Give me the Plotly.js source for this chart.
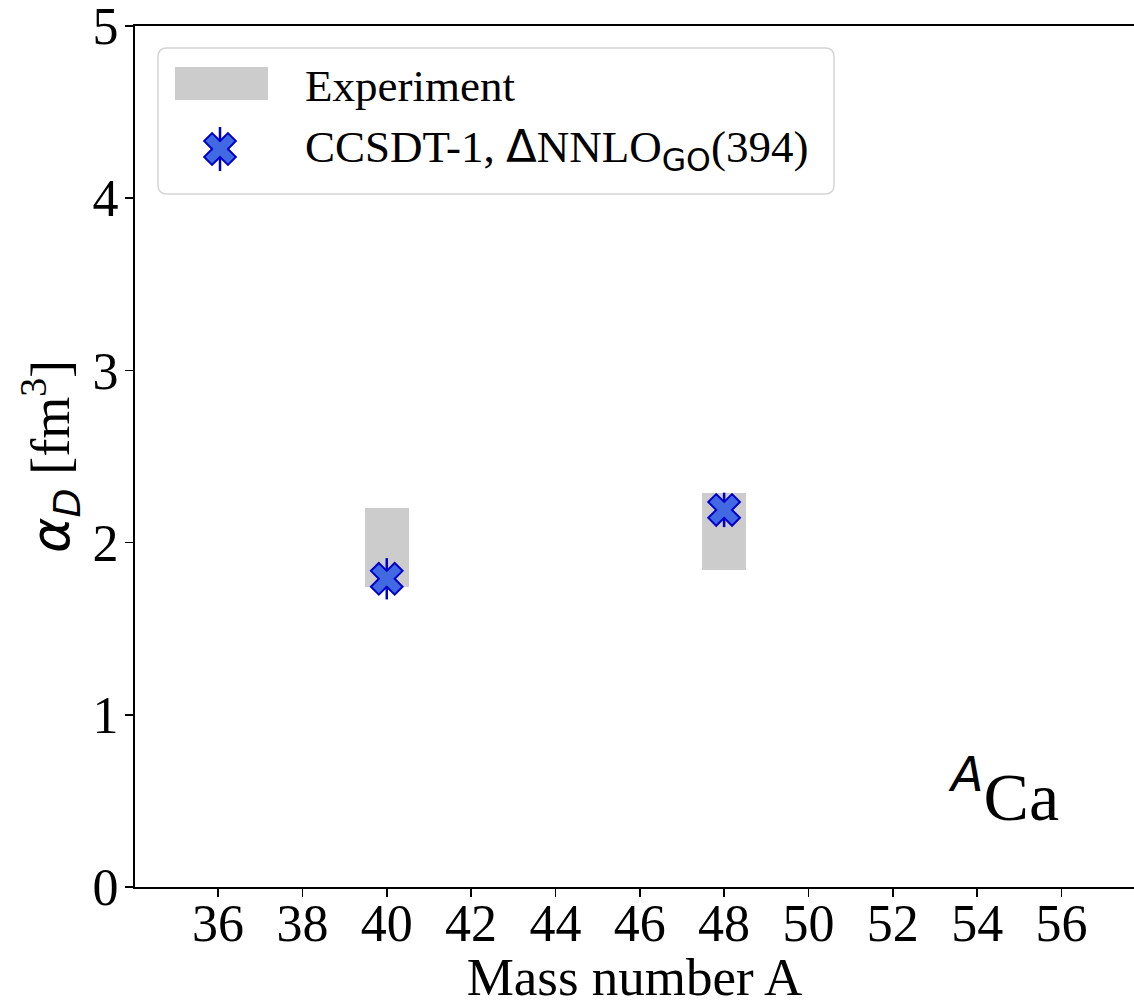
<!DOCTYPE html>
<html>
<head>
<meta charset="utf-8">
<script src="https://cdn.plot.ly/plotly-3.0.1.min.js"></script>
<style>html,body{margin:0;padding:0;background:#fff;}#chart{width:1134px;height:1006px;}</style>
</head>
<body>
<div id="chart"></div>
<script>
// ---- data ----
const massNumbers = [40, 48];
const expLow = [1.74, 1.84];
const expHigh = [2.20, 2.29];
const ccsdtValues = [1.79, 2.19];
const ccsdtErr = [0.12, 0.10];
const xTickVals = [36, 38, 40, 42, 44, 46, 48, 50, 52, 54, 56];
const yTickVals = [0, 1, 2, 3, 4, 5];
const legendLabels = ["Experiment", "CCSDT-1, <span style=\"font-family:DejaVu Sans\">Δ</span>NNLO<sub><span style=\"font-family:DejaVu Sans\">GO</span></sub>(394)"];

// ---- layout geometry (pixels) ----
const W = 1134, H = 1006;
const mL = 135, mR = 0, mT = 26, mB = 119;
const plotW = W - mL - mR, plotH = H - mT - mB;
const px = x => (x - mL) / plotW;
const py = y => (H - mB - y) / plotH;

const FONT = "Liberation Serif";
const blueFill = "#4169e1";
const blueEdge = "#0000cd";
const gray = "#cccccc";

function roundRect(x0, y0, x1, y1, r) {
  const X = v => px(v).toFixed(5), Y = v => py(v).toFixed(5);
  return `M${X(x0 + r)},${Y(y0)} L${X(x1 - r)},${Y(y0)} Q${X(x1)},${Y(y0)} ${X(x1)},${Y(y0 + r)} ` +
         `L${X(x1)},${Y(y1 - r)} Q${X(x1)},${Y(y1)} ${X(x1 - r)},${Y(y1)} ` +
         `L${X(x0 + r)},${Y(y1)} Q${X(x0)},${Y(y1)} ${X(x0)},${Y(y1 - r)} ` +
         `L${X(x0)},${Y(y0 + r)} Q${X(x0)},${Y(y0)} ${X(x0 + r)},${Y(y0)} Z`;
}

const markerStyle = {symbol: "x", size: 28, color: blueFill, line: {color: blueEdge, width: 2}};

const traces = [
  {
    type: "bar",
    x: massNumbers,
    base: expLow,
    y: expHigh.map((h, i) => h - expLow[i]),
    width: 1.04,
    marker: {color: gray, line: {width: 0}},
    showlegend: false,
    hoverinfo: "skip"
  },
  {
    type: "scatter",
    mode: "markers",
    x: massNumbers,
    y: ccsdtValues,
    error_y: {type: "data", array: ccsdtErr, visible: true, color: blueEdge, thickness: 2.5, width: 0},
    marker: markerStyle,
    showlegend: false,
    cliponaxis: false
  },
  // legend swatch marker, placed on hidden overlay axes spanning [0,1]
  {
    type: "scatter",
    mode: "markers",
    xaxis: "x2",
    yaxis: "y2",
    x: [px(220)],
    y: [py(149)],
    error_y: {type: "data", array: [22 / plotH], visible: true, color: blueEdge, thickness: 2.5, width: 0},
    marker: markerStyle,
    showlegend: false,
    cliponaxis: false,
    hoverinfo: "skip"
  }
];

const layout = {
  width: W, height: H,
  margin: {l: mL, r: mR, t: mT, b: mB, pad: 0},
  paper_bgcolor: "#ffffff",
  plot_bgcolor: "#ffffff",
  showlegend: false,
  font: {family: FONT, size: 52, color: "#000"},
  bargap: 0,
  xaxis: {
    range: [34.03, 57.72],
    tickvals: xTickVals,
    ticktext: xTickVals.map(String),
    ticks: "outside", ticklen: 8, tickwidth: 1.5, tickcolor: "#000",
    showline: true, linecolor: "#000", linewidth: 2, mirror: true,
    showgrid: false, zeroline: false,
    tickfont: {family: FONT, size: 52, color: "#000"},
    ticklabelstandoff: -18,
    title: {text: "Mass number A", font: {family: FONT, size: 53, color: "#000"}, standoff: 14},
    automargin: false
  },
  yaxis: {
    range: [0, 5],
    tickvals: yTickVals,
    ticktext: yTickVals.map(String),
    ticks: "outside", ticklen: 8, tickwidth: 1.5, tickcolor: "#000",
    showline: true, linecolor: "#000", linewidth: 2, mirror: false,
    showgrid: false, zeroline: false,
    tickfont: {family: FONT, size: 52, color: "#000"},
    ticklabelstandoff: -4,
    ticklabeloverflow: "allow",
    title: {text: "<span style=\"font-family:DejaVu Sans\"><i>α</i><sub><i>D</i></sub></span> [fm<sup>3</sup>]", font: {family: FONT, size: 54, color: "#000"}, standoff: 6},
    automargin: false
  },
  xaxis2: {overlaying: "x", range: [0, 1], visible: false, fixedrange: true},
  yaxis2: {overlaying: "y", range: [0, 1], visible: false, fixedrange: true},
  shapes: [
    {type: "path", xref: "paper", yref: "paper", path: roundRect(158, 48, 834, 194, 9),
     fillcolor: "rgba(255,255,255,0.8)", line: {color: "#d4d4d4", width: 1.5}, layer: "below"},
    {type: "rect", xref: "paper", yref: "paper", x0: px(175), x1: px(268), y0: py(100), y1: py(67),
     fillcolor: gray, line: {width: 0}, layer: "below"}
  ],
  annotations: [
    {xref: "paper", yref: "paper", x: px(303), y: py(86), xanchor: "left", yanchor: "middle",
     text: legendLabels[0], showarrow: false, font: {family: FONT, size: 45, color: "#000"}},
    {xref: "paper", yref: "paper", x: px(303), y: py(149), xanchor: "left", yanchor: "middle",
     text: legendLabels[1], showarrow: false, font: {family: FONT, size: 45, color: "#000"}},
    {xref: "paper", yref: "paper", x: px(946), y: py(791), xanchor: "left", yanchor: "middle",
     text: "<sup><span style=\"font-family:DejaVu Sans\"><i>A</i></span></sup>Ca", showarrow: false,
     font: {family: FONT, size: 68, color: "#000"}}
  ]
};

Plotly.newPlot("chart", traces, layout, {displayModeBar: false, staticPlot: true});
</script>
</body>
</html>
